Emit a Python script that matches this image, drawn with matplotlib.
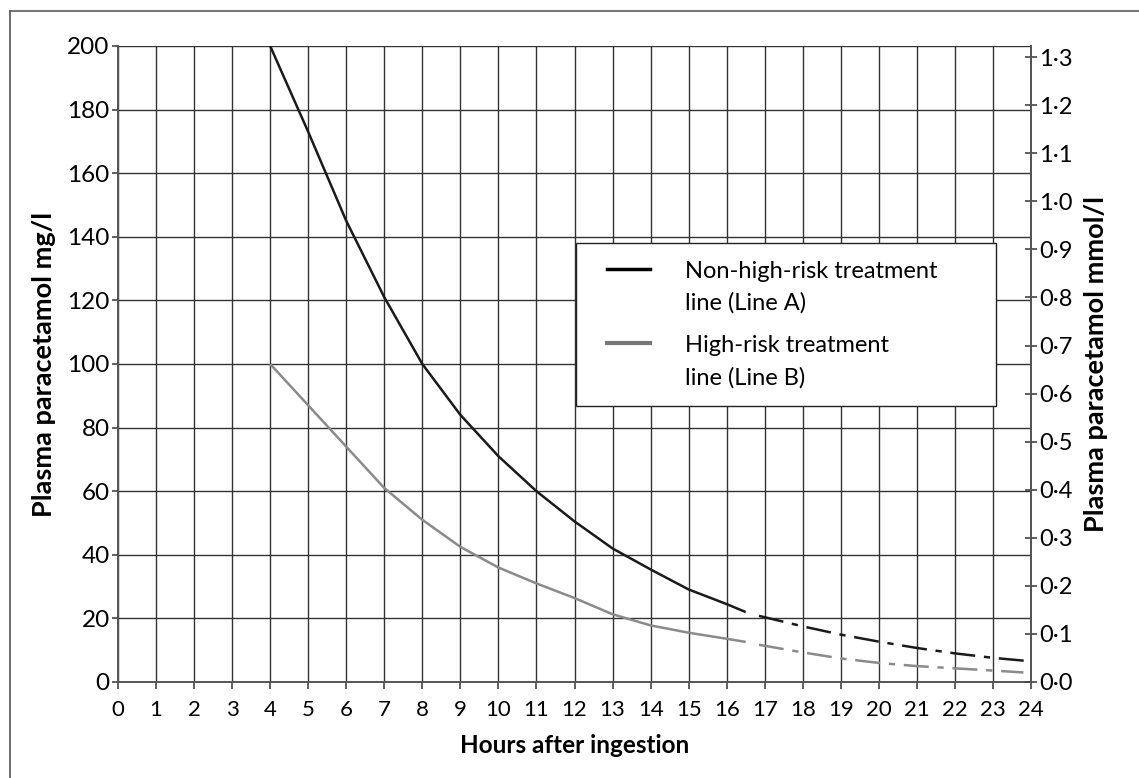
import matplotlib
matplotlib.use("Agg")
import numpy as np
import matplotlib.pyplot as plt
from matplotlib.lines import Line2D
from matplotlib.legend_handler import HandlerLine2D
from matplotlib.ticker import FixedLocator, FuncFormatter

# ---- data ----
hours_a_solid = [4, 5, 6, 7, 8, 9, 10, 11, 12, 13, 14, 15, 16, 16.5]
line_a_solid = [200, 173, 145, 121, 100, 84, 71, 60, 50.5, 42, 35.4, 29.1, 24.5, 22]
hours_a_dash = [16.85, 18, 19, 20, 21, 22, 23, 24]
line_a_dash = [20.8, 17.5, 14.9, 12.7, 10.7, 9.0, 7.6, 6.5]

hours_b_solid = [4, 5, 6, 7, 8, 9, 10, 11, 12, 13, 14, 15, 16, 16.5]
line_b_solid = [100, 87, 74, 61, 51, 42.5, 36, 31, 26.4, 21.3, 17.8, 15.5, 13.6, 12.6]
hours_b_dash = [16.85, 18, 19, 20, 21, 22, 23, 23.8]
line_b_dash = [11.7, 9.3, 7.4, 6.0, 5.0, 4.3, 3.6, 3.0]

x_ticks = list(range(0, 25))
y_ticks_mg = list(range(0, 201, 20))
y_ticks_mmol = [i / 10 for i in range(0, 14)]
mw_paracetamol = 151.16  # mg per mmol

labels = ["Non-high-risk treatment\nline (Line A)", "High-risk treatment\nline (Line B)"]

FONT = ["Lato", "DejaVu Sans"]
plt.rcParams["font.family"] = FONT

fig = plt.figure(figsize=(11.39, 7.78), dpi=100)
ax = fig.add_axes([118 / 1139, 1 - 682 / 778, (1031 - 118) / 1139, (682 - 46) / 778])

black = "#1a1a1a"
gray = "#8a8a8a"
dash_style = (0, (10, 3.5, 2.5, 3.5))

ax.plot(hours_a_solid, line_a_solid, color=black, lw=1.8, solid_capstyle="butt", zorder=4)
ax.plot(hours_a_dash, line_a_dash, color=black, lw=1.8, linestyle=dash_style, zorder=4)
ax.plot(hours_b_solid, line_b_solid, color=gray, lw=1.8, solid_capstyle="butt", zorder=4)
ax.plot(hours_b_dash, line_b_dash, color=gray, lw=1.8, linestyle=dash_style, zorder=4)

ax.set_xlim(0, 24)
ax.set_ylim(0, 200)
ax.xaxis.set_major_locator(FixedLocator(x_ticks))
ax.yaxis.set_major_locator(FixedLocator(y_ticks_mg))
ax.grid(True, color="#333333", lw=1.0)
ax.set_axisbelow(True)

ax.spines["top"].set_visible(False)
for s in ["left", "bottom", "right"]:
    ax.spines[s].set_color("#555555")
    ax.spines[s].set_linewidth(1.4)

ax.tick_params(axis="x", direction="out", length=5, width=1.2, color="#444444",
               labelsize=16, pad=8)
ax.tick_params(axis="y", direction="out", length=4, width=1.2, color="#444444",
               labelsize=17.5, pad=2)

ax.set_xlabel("Hours after ingestion", fontsize=17.5, fontweight="bold", labelpad=10)
ax.set_ylabel("Plasma paracetamol mg/l", fontsize=19.5, fontweight="bold", labelpad=8)

ax2 = ax.twinx()
ax2.set_ylim(0, 200 / mw_paracetamol)
ax2.yaxis.set_major_locator(FixedLocator(y_ticks_mmol))
ax2.yaxis.set_major_formatter(FuncFormatter(lambda v, p: f"{v:.1f}".replace(".", "\u00b7")))
ax2.tick_params(axis="y", direction="inout", length=8, width=1.2, color="#444444",
                labelsize=17, pad=2)
for s in ["top", "left", "bottom"]:
    ax2.spines[s].set_visible(False)
ax2.spines["right"].set_color("#555555")
ax2.spines["right"].set_linewidth(1.4)
ax2.set_ylabel("Plasma paracetamol mmol/l", fontsize=19.5, fontweight="bold", labelpad=8)


class TopLineHandler(HandlerLine2D):
    """Align the legend sample with the first line of a two-line label."""
    def create_artists(self, legend, orig_handle, xdescent, ydescent, width, height,
                       fontsize, trans):
        artists = super().create_artists(legend, orig_handle, xdescent, ydescent,
                                         width, height, fontsize, trans)
        for a in artists:
            a.set_ydata(np.asarray(a.get_ydata()) + 0.78 * fontsize)
        return artists


LEG_FS = 17
handles = [Line2D([], [], color="black", lw=2.5), Line2D([], [], color="#777777", lw=3)]
leg = ax2.legend(handles, labels, loc="upper left",
                 bbox_to_anchor=(0.5016, 0.44, 0.46, 0.25), mode="expand",
                 fontsize=LEG_FS, frameon=True, fancybox=False, framealpha=1,
                 edgecolor="#222222", handlelength=2.4, handletextpad=1.45,
                 borderpad=0.75, labelspacing=0.9, borderaxespad=0,
                 handler_map={Line2D: TopLineHandler(xpad=0.55)})
leg.get_frame().set_linewidth(1.0)
for t in leg.get_texts():
    t.set_linespacing(1.6)

# outer frame (top and left edges visible)
fig.add_artist(Line2D([10 / 1139, 1.0], [1 - 11 / 778, 1 - 11 / 778],
                      transform=fig.transFigure, color="#777777", lw=1.5))
fig.add_artist(Line2D([10 / 1139, 10 / 1139], [0, 1 - 11 / 778],
                      transform=fig.transFigure, color="#555555", lw=1.2))

fig.savefig("out.png", dpi=100)
